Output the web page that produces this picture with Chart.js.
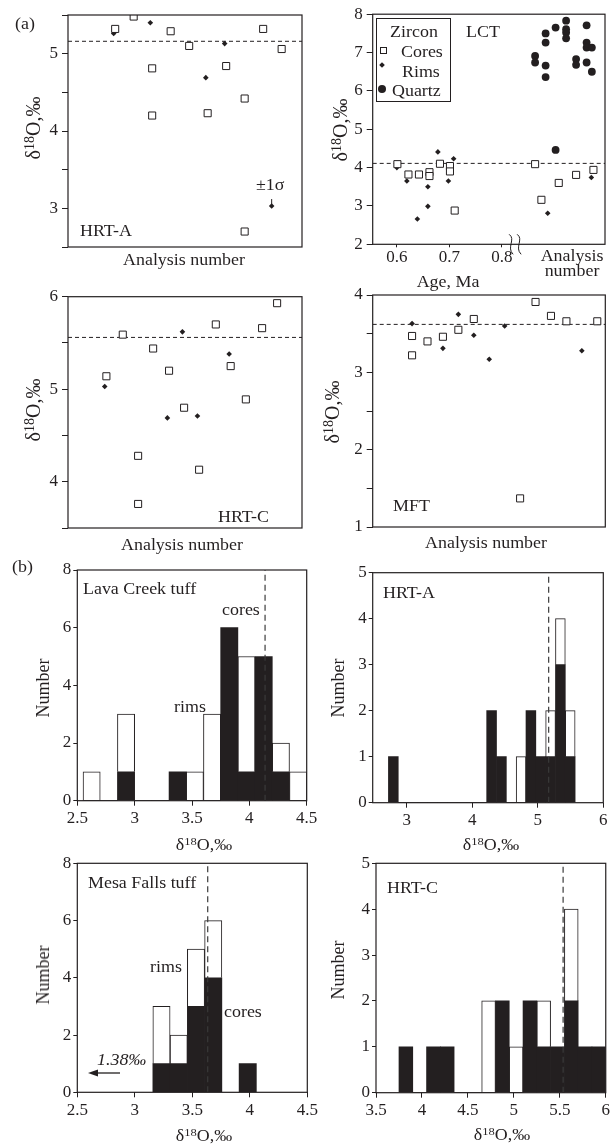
<!DOCTYPE html>
<html lang="en">
<head>
<meta charset="UTF-8" />
<title>Oxygen isotope panels</title>
<script src="https://cdn.jsdelivr.net/npm/chart.js@4.4.1/dist/chart.umd.min.js"></script>
<style>
  body { margin: 0; background: #fff; }
  #page { position: relative; width: 613px; height: 1147px; overflow: hidden; font-family: 'Liberation Serif', 'Times New Roman', serif; color: #231f20; }
  canvas { position: absolute; }
  .t { position: absolute; white-space: nowrap; font-size: 16px; line-height: 1; transform-origin: 0 50%; transform: translate(0, -50%) scaleX(1.12); }
  .t.c { transform-origin: 50% 50%; transform: translate(-50%, -50%) scaleX(1.12); }
  .v { position: absolute; white-space: nowrap; font-size: 18px; line-height: 1; transform: translate(-50%, -50%) rotate(-90deg); }
  .v.d { font-size: 20px; }
  sup { font-size: 70%; vertical-align: 0.45em; line-height: 0; }
  .legend { position: absolute; left: 376px; top: 18px; width: 75px; height: 84px; border: 1px solid #231f20; box-sizing: border-box; }
  .mk { position: absolute; box-sizing: border-box; }
</style>
</head>
<body>
<div id="page">
  <div class="t" style="left:15px;top:24px">(a)</div>
  <div class="t" style="left:12px;top:567px">(b)</div>

  <!-- HRT-A scatter -->
  <div class="v d" style="left:33px;top:128px">δ<sup>18</sup>O,‰</div>
  <div class="t" style="left:80px;top:231px">HRT-A</div>
  <div class="t" style="left:256px;top:185px">±1σ</div>
  <div class="t c" style="left:184px;top:260px">Analysis number</div>

  <!-- LCT scatter -->
  <div class="v d" style="left:340px;top:130px">δ<sup>18</sup>O,‰</div>
  <div class="legend"></div>
  <div class="t c" style="left:414px;top:32px">Zircon</div>
  <div class="t" style="left:401px;top:52px">Cores</div>
  <div class="t" style="left:402px;top:72px">Rims</div>
  <div class="t" style="left:392px;top:91px">Quartz</div>
  <div class="mk" style="left:380px;top:47px;width:7px;height:7px;border:1px solid #231f20;background:#fff"></div>
  <div class="mk" style="left:380px;top:63px;width:4px;height:4px;background:#231f20;transform:rotate(45deg)"></div>
  <div class="mk" style="left:378px;top:85px;width:8px;height:8px;border-radius:50%;background:#231f20"></div>
  <div class="t" style="left:466px;top:32px">LCT</div>
  <div class="t c" style="left:572px;top:256px">Analysis</div>
  <div class="t c" style="left:572px;top:271px">number</div>
  <div class="t c" style="left:448px;top:282px">Age, Ma</div>

  <!-- HRT-C scatter -->
  <div class="v d" style="left:33px;top:410px">δ<sup>18</sup>O,‰</div>
  <div class="t" style="left:218px;top:517px">HRT-C</div>
  <div class="t c" style="left:182px;top:545px">Analysis number</div>

  <!-- MFT scatter -->
  <div class="v d" style="left:332px;top:412px">δ<sup>18</sup>O,‰</div>
  <div class="t" style="left:393px;top:506px">MFT</div>
  <div class="t c" style="left:486px;top:543px">Analysis number</div>

  <!-- Lava Creek histogram -->
  <div class="v" style="left:43px;top:688px">Number</div>
  <div class="t c" style="left:204px;top:845px">δ<sup>18</sup>O,‰</div>
  <div class="t" style="left:83px;top:589px">Lava Creek tuff</div>
  <div class="t" style="left:222px;top:610px">cores</div>
  <div class="t" style="left:174px;top:707px">rims</div>

  <!-- HRT-A histogram -->
  <div class="v" style="left:338px;top:688px">Number</div>
  <div class="t c" style="left:491px;top:845px">δ<sup>18</sup>O,‰</div>
  <div class="t" style="left:383px;top:593px">HRT-A</div>

  <!-- Mesa Falls histogram -->
  <div class="v" style="left:43px;top:975px">Number</div>
  <div class="t c" style="left:204px;top:1136px">δ<sup>18</sup>O,‰</div>
  <div class="t" style="left:88px;top:883px">Mesa Falls tuff</div>
  <div class="t" style="left:150px;top:967px">rims</div>
  <div class="t" style="left:224px;top:1012px">cores</div>
  <div class="t" style="left:97px;top:1060px;font-style:italic">1.38‰</div>
  <svg style="position:absolute;left:86px;top:1066px" width="36" height="14">
    <line x1="34" y1="7" x2="10" y2="7" stroke="#231f20" stroke-width="1.3"/>
    <polygon points="2,7 12,3.5 12,10.5" fill="#231f20"/>
  </svg>

  <!-- HRT-C histogram -->
  <div class="v" style="left:338px;top:970px">Number</div>
  <div class="t c" style="left:502px;top:1135px">δ<sup>18</sup>O,‰</div>
  <div class="t" style="left:387px;top:888px">HRT-C</div>
</div>

<script>
// ---- (a) zircon and quartz δ18O per analysis ----
// HRT-A
const hrtaCoreX = [1, 2, 3, 3, 4, 5, 6, 7, 8, 8, 9, 10];
const hrtaCoreY = [5.32, 5.48, 4.81, 4.20, 5.29, 5.10, 4.23, 4.84, 4.42, 2.70, 5.32, 5.06];
const hrtaRimX = [0.92, 2.9, 5.9, 6.92, 9.46];
const hrtaRimY = [5.26, 5.40, 4.69, 5.13, 3.03];
const hrtaMean = 5.16;
const hrtaSigma = [3.05, 3.12];

// LCT (age, Ma on the left, analysis number after the break)
const lctCoreX = [0.601, 0.622, 0.642, 0.662, 0.662, 0.682, 0.701, 0.701, 0.710, 0.863, 0.875, 0.908, 0.941, 0.974];
const lctCoreY = [4.09, 3.82, 3.82, 3.88, 3.78, 4.10, 4.04, 3.90, 2.88, 4.09, 3.16, 3.60, 3.81, 3.94];
const lctRimX = [0.600, 0.619, 0.639, 0.659, 0.659, 0.678, 0.698, 0.708, 0.887, 0.970];
const lctRimY = [4.00, 3.65, 2.66, 3.50, 2.99, 4.41, 3.65, 4.23, 2.81, 3.74];
const lctQuartzX = [0.863, 0.863, 0.883, 0.883, 0.883, 0.883, 0.902, 0.922, 0.922, 0.922, 0.922, 0.941, 0.941, 0.961, 0.961, 0.961, 0.961, 0.971, 0.971, 0.902];
const lctQuartzY = [6.91, 6.74, 7.50, 7.26, 6.66, 6.36, 7.65, 7.83, 7.61, 7.52, 7.37, 6.83, 6.68, 7.71, 7.26, 7.13, 6.74, 7.13, 6.50, 4.46];
const lctMean = 4.11;
const lctAgeTicks = [0.6, 0.7, 0.8];
const lctBreakAt = 0.825;

// HRT-C
const hrtcCoreX = [1.01, 2.09, 3.1, 3.1, 4.09, 5.14, 6.13, 7.12, 8.22, 9.2, 10.2, 11.27, 12.26];
const hrtcCoreY = [5.14, 5.59, 4.28, 3.76, 5.44, 5.20, 4.80, 4.13, 5.70, 5.25, 4.89, 5.66, 5.93];
const hrtcRimX = [0.90, 5.03, 6.02, 7.01, 9.10];
const hrtcRimY = [5.03, 4.69, 5.62, 4.71, 5.38];
const hrtcMean = 5.56;

// MFT
const mftCoreX = [1, 1, 2, 3, 4, 5, 8, 9, 10, 11, 13];
const mftCoreY = [3.47, 3.22, 3.40, 3.46, 3.55, 3.69, 1.37, 3.91, 3.73, 3.66, 3.66];
const mftRimX = [1, 3, 4, 5, 6, 7, 12];
const mftRimY = [3.63, 3.31, 3.75, 3.48, 3.17, 3.60, 3.28];
const mftMean = 3.62;

// ---- (b) histograms: bin centres, cores (black) and rims (open, stacked on top) ----
const lcBins = [2.625, 2.775, 2.925, 3.075, 3.225, 3.375, 3.525, 3.675, 3.825, 3.975, 4.125, 4.275, 4.425];
const lcCores = [0, 0, 1, 0, 0, 1, 0, 0, 6, 1, 5, 1, 0];
const lcRims = [1, 0, 2, 0, 0, 0, 1, 3, 0, 4, 0, 1, 1];
const lcMean = 4.137;
const lcTicks = [2.5, 3, 3.5, 4, 4.5];

const haBins = [2.795, 2.945, 3.095, 3.245, 3.395, 3.545, 3.695, 3.845, 3.995, 4.145, 4.295, 4.445, 4.595, 4.745, 4.895, 5.045, 5.195, 5.345, 5.495];
const haCores = [1, 0, 0, 0, 0, 0, 0, 0, 0, 0, 2, 1, 0, 0, 2, 1, 1, 3, 1];
const haRims = [0, 0, 0, 0, 0, 0, 0, 0, 0, 0, 0, 0, 0, 1, 0, 0, 1, 1, 1];
const haMean = 5.166;
const haTicks = [3, 4, 5, 6];

const mfBins = [3.232, 3.382, 3.532, 3.682, 3.832, 3.982];
const mfCores = [1, 1, 3, 4, 0, 1];
const mfRims = [2, 1, 2, 2, 0, 0];
const mfMean = 3.634;
const mfTicks = [2.5, 3, 3.5, 4, 4.5];

const hcBins = [3.825, 3.975, 4.125, 4.275, 4.425, 4.575, 4.725, 4.875, 5.025, 5.175, 5.325, 5.475, 5.625, 5.775, 5.925];
const hcCores = [1, 0, 1, 1, 0, 0, 0, 2, 0, 2, 1, 1, 2, 1, 1];
const hcRims = [0, 0, 0, 0, 0, 0, 2, 0, 1, 0, 1, 0, 2, 0, 0];
const hcMean = 5.536;
const hcTicks = [3.5, 4, 4.5, 5, 5.5, 6];

const INK = '#231f20';
const TICK_FONT = { family: "'Liberation Serif', 'Times New Roman', serif", size: 17 };
Chart.defaults.font.family = TICK_FONT.family;
Chart.defaults.color = INK;

// box round every plot area
Chart.register({
  id: 'frame',
  afterDraw(chart) {
    const { ctx, chartArea: a } = chart;
    ctx.save();
    ctx.strokeStyle = INK;
    ctx.lineWidth = 1.2;
    ctx.strokeRect(a.left, a.top, a.right - a.left, a.bottom - a.top);
    ctx.restore();
  }
});

const pts = (xs, ys) => xs.map((x, i) => ({ x, y: ys[i] }));
const fmt = (v) => String(Math.round(v * 100) / 100);
const intOnly = (v) => (Math.abs(v - Math.round(v)) < 1e-6 ? String(Math.round(v)) : '');

function addCanvas(box) {
  const c = document.createElement('canvas');
  c.width = box.w;
  c.height = box.h;
  c.style.left = box.x + 'px';
  c.style.top = box.y + 'px';
  document.getElementById('page').prepend(c);
  return c;
}

function baseOptions(box, plot, yw, xh) {
  return {
    responsive: false,
    animation: false,
    events: [],
    layout: {
      padding: {
        left: plot.l - box.x - yw,
        top: plot.t - box.y,
        right: box.x + box.w - plot.r,
        bottom: box.y + box.h - plot.b - xh
      }
    },
    plugins: { legend: { display: false }, tooltip: { enabled: false } }
  };
}

const coreSet = (xs, ys) => ({ data: pts(xs, ys), pointStyle: 'rect', pointRadius: 5, pointBackgroundColor: '#fff', pointBorderColor: INK, pointBorderWidth: 1, order: 0 });
const rimSet = (xs, ys) => ({ data: pts(xs, ys), pointStyle: 'rectRot', pointRadius: 2.8, pointBackgroundColor: INK, pointBorderColor: INK, pointBorderWidth: 0, order: 1 });
const quartzSet = (xs, ys) => ({ data: pts(xs, ys), pointStyle: 'circle', pointRadius: 3.9, pointBackgroundColor: INK, pointBorderColor: INK, pointBorderWidth: 0, order: 2 });
const meanSet = (xr, y) => ({ type: 'line', data: [{ x: xr[0], y }, { x: xr[1], y }], borderColor: INK, borderWidth: 1, borderDash: [4, 3], pointRadius: 0, order: 3 });

function scatterPanel(box, plot, xr, yr, yStep, datasets, xTicks, plugins) {
  const yw = 40, xh = xTicks ? 30 : 20;
  const opts = baseOptions(box, plot, yw, xh);
  opts.scales = {
    x: {
      type: 'linear', min: xr[0], max: xr[1],
      ticks: xTicks ? { font: TICK_FONT, color: INK, padding: 0, callback: fmt, autoSkip: false, maxRotation: 0 } : { display: false },
      grid: xTicks ? { drawOnChartArea: false, tickLength: 3, color: INK } : { display: false },
      border: { display: false },
      afterBuildTicks: xTicks ? (s) => { s.ticks = xTicks.map((v) => ({ value: v })); } : undefined,
      afterFit: (s) => { s.height = xh; }
    },
    y: {
      min: yr[0], max: yr[1],
      ticks: { stepSize: yStep, font: TICK_FONT, color: INK, padding: 4, callback: intOnly },
      grid: { drawOnChartArea: false, tickLength: 6, color: INK },
      border: { display: false },
      afterFit: (s) => { s.width = yw; }
    }
  };
  new Chart(addCanvas(box), { type: 'scatter', data: { datasets }, options: opts, plugins: plugins || [] });
}

function histPanel(box, plot, xr, xTicks, yMax, yStep, bins, cores, rims, mean) {
  const yw = 40, xh = 30;
  const opts = baseOptions(box, plot, yw, xh);
  opts.scales = {
    x: {
      type: 'linear', min: xr[0], max: xr[1], offset: false,
      afterBuildTicks: (s) => { s.ticks = xTicks.map((v) => ({ value: v })); },
      ticks: { font: TICK_FONT, color: INK, padding: 3, callback: fmt, autoSkip: false, maxRotation: 0 },
      grid: { offset: false, drawOnChartArea: false, tickLength: 5, color: INK },
      border: { display: false },
      afterFit: (s) => { s.height = xh; }
    },
    y: {
      min: 0, max: yMax, stacked: true,
      ticks: { stepSize: yStep, font: TICK_FONT, color: INK, padding: 2, callback: fmt },
      grid: { drawOnChartArea: false, tickLength: 4, color: INK },
      border: { display: false },
      afterFit: (s) => { s.width = yw; }
    }
  };
  const bar = { type: 'bar', stack: 'bins', barPercentage: 1, categoryPercentage: 1, borderSkipped: 'start', order: 1 };
  new Chart(addCanvas(box), {
    type: 'bar',
    data: {
      datasets: [
        { ...bar, label: 'cores', data: pts(bins, cores), backgroundColor: INK, borderWidth: 0 },
        { ...bar, label: 'rims', data: pts(bins, rims), backgroundColor: '#fff', borderColor: INK, borderWidth: 1 },
        { type: 'line', stack: 'ref', data: [{ x: mean, y: 0 }, { x: mean, y: yMax }], borderColor: '#3a3a3a', borderWidth: 1.2, borderDash: [6, 4], pointRadius: 0, order: 0 }
      ]
    },
    options: opts
  });
}

// axis break on the LCT age axis
const axisBreak = {
  id: 'axisBreak',
  afterDraw(chart) {
    const { ctx } = chart;
    const x = chart.scales.x.getPixelForValue(lctBreakAt);
    const y = chart.chartArea.bottom;
    ctx.save();
    ctx.strokeStyle = INK;
    ctx.lineWidth = 1;
    for (const dx of [-4, 4]) {
      ctx.beginPath();
      ctx.moveTo(x + dx - 2, y - 10);
      ctx.bezierCurveTo(x + dx + 5, y - 5, x + dx - 5, y + 3, x + dx + 2, y + 10);
      ctx.stroke();
    }
    ctx.restore();
  }
};

// row 1
const hrtaX = [-1.55, 11.1];
scatterPanel({ x: 0, y: 0, w: 330, h: 285 }, { l: 68, t: 15, r: 302, b: 247 }, hrtaX, [2.5, 5.5], 0.5, [
  coreSet(hrtaCoreX, hrtaCoreY),
  rimSet(hrtaRimX, hrtaRimY),
  meanSet(hrtaX, hrtaMean),
  { type: 'line', data: [{ x: hrtaRimX[4], y: hrtaSigma[0] }, { x: hrtaRimX[4], y: hrtaSigma[1] }], borderColor: INK, borderWidth: 1, pointRadius: 0, order: 4 }
]);

const lctX = [0.554, 0.996];
scatterPanel({ x: 310, y: 0, w: 303, h: 285 }, { l: 372.7, t: 13.3, r: 605, b: 244.3 }, lctX, [2, 8], 1, [
  coreSet(lctCoreX, lctCoreY),
  rimSet(lctRimX, lctRimY),
  quartzSet(lctQuartzX, lctQuartzY),
  meanSet(lctX, lctMean)
], lctAgeTicks, [axisBreak]);

// row 2
const hrtcX = [-1.52, 13.9];
scatterPanel({ x: 0, y: 278, w: 330, h: 285 }, { l: 68, t: 296.7, r: 302, b: 528 }, hrtcX, [3.5, 6], 0.5, [
  coreSet(hrtcCoreX, hrtcCoreY),
  rimSet(hrtcRimX, hrtcRimY),
  meanSet(hrtcX, hrtcMean)
]);

const mftX = [-1.55, 13.52];
scatterPanel({ x: 310, y: 278, w: 303, h: 285 }, { l: 372.7, t: 295, r: 605.3, b: 527 }, mftX, [1, 4], 0.5, [
  coreSet(mftCoreX, mftCoreY),
  rimSet(mftRimX, mftRimY),
  meanSet(mftX, mftMean)
]);

// row 3
histPanel({ x: 0, y: 555, w: 330, h: 290 }, { l: 77.3, t: 570, r: 306.7, b: 800.7 }, [2.5, 4.5], lcTicks, 8, 2, lcBins, lcCores, lcRims, lcMean);
histPanel({ x: 310, y: 555, w: 303, h: 290 }, { l: 372.7, t: 572.7, r: 603.3, b: 802.7 }, [2.48, 6], haTicks, 5, 1, haBins, haCores, haRims, haMean);

// row 4
histPanel({ x: 0, y: 848, w: 330, h: 299 }, { l: 77.3, t: 863.3, r: 307.3, b: 1092.3 }, [2.5, 4.5], mfTicks, 8, 2, mfBins, mfCores, mfRims, mfMean);
histPanel({ x: 310, y: 848, w: 303, h: 299 }, { l: 376, t: 863.3, r: 606, b: 1092.7 }, [3.5, 6], hcTicks, 5, 1, hcBins, hcCores, hcRims, hcMean);
</script>
</body>
</html>
